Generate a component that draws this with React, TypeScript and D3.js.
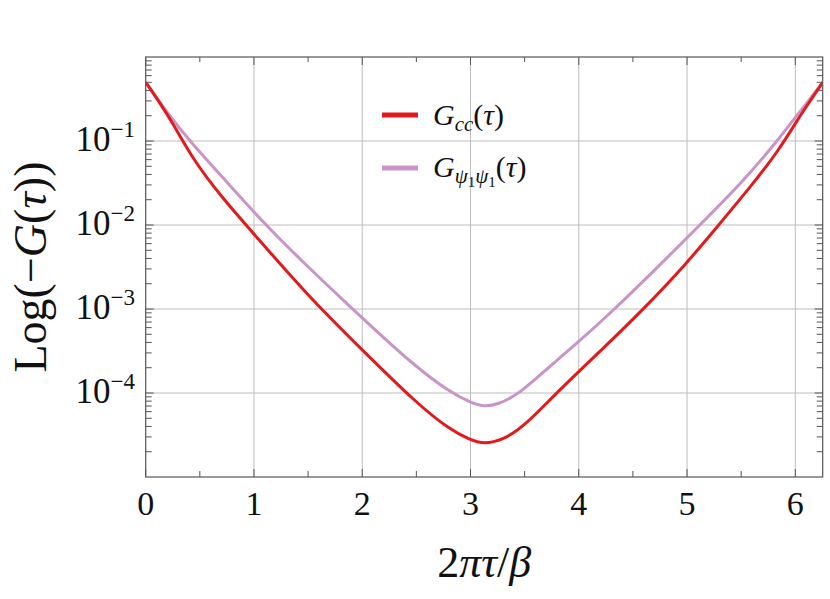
import React from "react";
import * as d3 from "d3";

const W = 830;
const H = 599;

// x: 2πτ/β ; y: log10(-G(τ))
const redX = [0, 0.12, 0.25, 0.44, 0.7, 1.0, 1.5, 2.0, 2.5, 2.8, 3.0, 3.12, 3.3, 3.5, 3.8, 4.2, 4.6, 5.0, 5.3, 5.6, 5.85, 6.03, 6.15, 6.253];
const redY = [-0.301, -0.524, -0.786, -1.226, -1.667, -2.107, -2.845, -3.488, -4.119, -4.429, -4.56, -4.607, -4.56, -4.393, -3.988, -3.5, -3.0, -2.452, -1.988, -1.524, -1.107, -0.726, -0.5, -0.301];

const purpleX = [0, 0.2, 0.41, 0.7, 1.1, 1.5, 1.9, 2.2, 2.5, 2.8, 3.0, 3.12, 3.25, 3.45, 3.7, 4.0, 4.3, 4.7, 5.1, 5.5, 5.83, 6.02, 6.15, 6.253];
const purpleY = [-0.301, -0.667, -1.006, -1.417, -1.994, -2.5, -2.988, -3.345, -3.69, -3.982, -4.113, -4.163, -4.14, -4.01, -3.72, -3.39, -3.04, -2.54, -2.024, -1.506, -1.006, -0.685, -0.476, -0.301];

const xTicks = [0, 1, 2, 3, 4, 5, 6];
const xMinor = [0.5, 1.5, 2.5, 3.5, 4.5, 5.5];
const yTickExp = [-1, -2, -3, -4];
const yDecades = [-5, -4, -3, -2, -1];

const colors = ["#e31a1c", "#c994c7"];

const L = 145.7, R = 822.7, T = 57, B = 477;

export default function App() {
  const x = d3.scaleLinear().domain([0, 6.253]).range([L, R]);
  const y = d3.scaleLog().domain([1e-5, 1]).range([B, T]);

  const line = d3
    .line<[number, number]>()
    .x((d) => x(d[0]))
    .y((d) => y(Math.pow(10, d[1])))
    .curve(d3.curveBasis);

  const redData: [number, number][] = redX.map((v, i) => [v, redY[i]]);
  const purpleData: [number, number][] = purpleX.map((v, i) => [v, purpleY[i]]);

  const minorY: number[] = [];
  yDecades.forEach((e) => {
    for (let k = 2; k <= 9; k++) minorY.push(k * Math.pow(10, e));
  });

  const tickColor = "#555";
  const gridColor = "#bdbdbd";
  const font = "'Liberation Serif', 'DejaVu Serif', serif";

  return (
    <svg width={W} height={H} style={{ position: "absolute", left: 0, top: 0, background: "#fff" }} fontFamily={font}>
      {/* grid */}
      {xTicks.filter((t) => t > 0).map((t) => (
        <line key={"gx" + t} x1={x(t)} x2={x(t)} y1={T} y2={B} stroke={gridColor} strokeWidth={1} />
      ))}
      {yTickExp.map((e) => (
        <line key={"gy" + e} x1={L} x2={R} y1={y(Math.pow(10, e))} y2={y(Math.pow(10, e))} stroke={gridColor} strokeWidth={1} />
      ))}

      {/* x ticks bottom & top */}
      {xTicks.map((t) => (
        <g key={"xt" + t}>
          <line x1={x(t)} x2={x(t)} y1={B} y2={B - 8} stroke={tickColor} />
          <line x1={x(t)} x2={x(t)} y1={T} y2={T + 8} stroke={tickColor} />
        </g>
      ))}
      {xMinor.map((t) => (
        <g key={"xm" + t}>
          <line x1={x(t)} x2={x(t)} y1={B} y2={B - 6} stroke={tickColor} />
          <line x1={x(t)} x2={x(t)} y1={T} y2={T + 5} stroke={tickColor} />
        </g>
      ))}
      {/* y ticks left & right */}
      {minorY.map((v, i) => (
        <g key={"ym" + i}>
          <line x1={L} x2={L + 6} y1={y(v)} y2={y(v)} stroke={tickColor} />
          <line x1={R} x2={R - 6} y1={y(v)} y2={y(v)} stroke={tickColor} />
        </g>
      ))}
      {yTickExp.map((e) => (
        <g key={"yt" + e}>
          <line x1={L} x2={L + 8} y1={y(Math.pow(10, e))} y2={y(Math.pow(10, e))} stroke={tickColor} />
          <line x1={R} x2={R - 8} y1={y(Math.pow(10, e))} y2={y(Math.pow(10, e))} stroke={tickColor} />
        </g>
      ))}

      {/* curves */}
      <defs>
        <clipPath id="plotclip">
          <rect x={L} y={T} width={R - L} height={B - T} />
        </clipPath>
      </defs>
      <g clipPath="url(#plotclip)">
        <path d={line(purpleData) || ""} fill="none" stroke={colors[1]} strokeWidth={3} />
        <path d={line(redData) || ""} fill="none" stroke={colors[0]} strokeWidth={3} />
      </g>

      {/* frame */}
      <rect x={L} y={T} width={R - L} height={B - T} fill="none" stroke={tickColor} strokeWidth={1.2} />

      {/* x tick labels */}
      {xTicks.map((t) => (
        <text key={"xl" + t} x={x(t)} y={515} textAnchor="middle" fontSize={34} fill="#111">
          {t}
        </text>
      ))}
      {/* y tick labels */}
      {yTickExp.map((e) => (
        <text key={"yl" + e} x={135} y={y(Math.pow(10, e)) + 10} textAnchor="end" fontSize={35} fill="#111">
          10
          <tspan dy={-14} fontSize={23}>
            {"\u2212" + Math.abs(e)}
          </tspan>
        </text>
      ))}

      {/* axis labels */}
      <text x={(L + R) / 2} y={577} textAnchor="middle" fontSize={44} fill="#111">
        2<tspan fontStyle="italic">πτ</tspan>/<tspan fontStyle="italic">β</tspan>
      </text>
      <text transform={`translate(46, ${(T + B) / 2}) rotate(-90)`} textAnchor="middle" fontSize={46} fill="#111">
        Log(−<tspan fontStyle="italic">G</tspan>(<tspan fontStyle="italic">τ</tspan>))
      </text>

      {/* legend */}
      <line x1={382} x2={418} y1={115} y2={115} stroke={colors[0]} strokeWidth={5} />
      <text x={433} y={125} fontSize={30} fill="#111">
        <tspan fontStyle="italic">G</tspan>
        <tspan fontStyle="italic" fontSize={21} dy={6}>cc</tspan>
        <tspan dy={-6}>(</tspan>
        <tspan fontStyle="italic">τ</tspan>
        <tspan>)</tspan>
      </text>
      <line x1={382} x2={418} y1={168} y2={168} stroke={colors[1]} strokeWidth={5} />
      <text x={433} y={177} fontSize={30} fill="#111">
        <tspan fontStyle="italic">G</tspan>
        <tspan fontStyle="italic" fontSize={21} dy={6}>ψ</tspan>
        <tspan fontSize={15} dy={4}>1</tspan>
        <tspan fontStyle="italic" fontSize={21} dy={-4}>ψ</tspan>
        <tspan fontSize={15} dy={4}>1</tspan>
        <tspan dy={-10}>(</tspan>
        <tspan fontStyle="italic">τ</tspan>
        <tspan>)</tspan>
      </text>
    </svg>
  );
}
